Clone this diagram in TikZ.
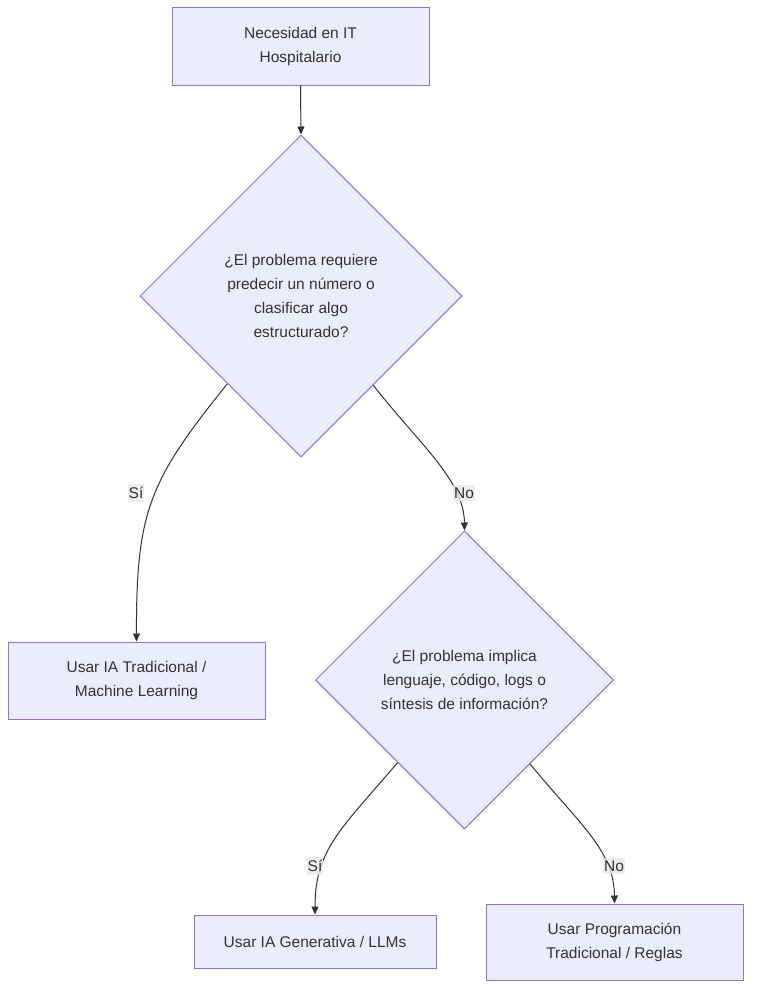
\documentclass[tikz,border=0pt]{standalone}
\usepackage{fontspec}
\setmainfont{Liberation Sans}
\usetikzlibrary{shapes.geometric,arrows.meta}
\definecolor{nodefill}{HTML}{ECECFF}
\definecolor{nodeline}{HTML}{9370DB}
\definecolor{txt}{HTML}{333333}
\definecolor{edge}{HTML}{333333}
\definecolor{lblbg}{HTML}{E8E8E8}
\tikzset{
  box/.style={draw=nodeline, fill=nodefill, line width=1pt, rectangle, inner sep=0pt, text=txt, align=center, font=\fontsize{15.5}{24}\selectfont},
  decision/.style={draw=nodeline, fill=nodefill, line width=1pt, diamond, aspect=1, inner sep=0pt, minimum width=#1, minimum height=#1, text=txt, align=center, font=\fontsize{15.5}{24}\selectfont},
  conn/.style={draw=edge, line width=1pt, -{Triangle[length=8pt,width=7pt]}},
  lbl/.style={fill=lblbg, fill opacity=0.8, text opacity=1, text=txt, inner xsep=1pt, inner ysep=3pt, font=\fontsize{15.5}{18}\selectfont}
}
\begin{document}
\begin{tikzpicture}[x=1pt,y=-1pt]
\useasboundingbox (0,0) rectangle (759,998);
\node[box, minimum width=257pt, minimum height=77pt] (start) at (300.5,46.5) {Necesidad en IT\\Hospitalario};
\node[decision=322pt] (d1) at (301,296) {¿El problema requiere\\predecir un número o\\clasificar algo\\estructurado?};
\node[box, minimum width=257pt, minimum height=77pt] (ml) at (136.5,680.5) {Usar IA Tradicional /\\Machine Learning};
\node[decision=298pt] (d2) at (464.5,680) {¿El problema implica\\lenguaje, código, logs o\\síntesis de información?};
\node[box, minimum width=242pt, minimum height=53pt] (gen) at (315,941.5) {Usar IA Generativa / LLMs};
\node[box, minimum width=257pt, minimum height=76pt] (prog) at (614.5,942) {Usar Programación\\Tradicional / Reglas};

\draw[conn] (start.south) -- (d1.north);
\draw[conn] (d1.230.6) .. controls (150,480) and (136,510) .. (ml.north);
\draw[conn] (d1.309.4) .. controls (420,445) and (464,480) .. (d2.north);
\draw[conn] (d2.231.3) .. controls (340,830) and (315,850) .. (gen.north);
\draw[conn] (d2.308.7) .. controls (580,825) and (614,850) .. (prog.north);

\node[lbl] (l1) at (136,493) {Sí};
\node[lbl] (l2) at (464,493) {No};
\node[lbl] (l3) at (315,866) {Sí};
\node[lbl] (l4) at (614,866) {No};
\end{tikzpicture}
\end{document}
